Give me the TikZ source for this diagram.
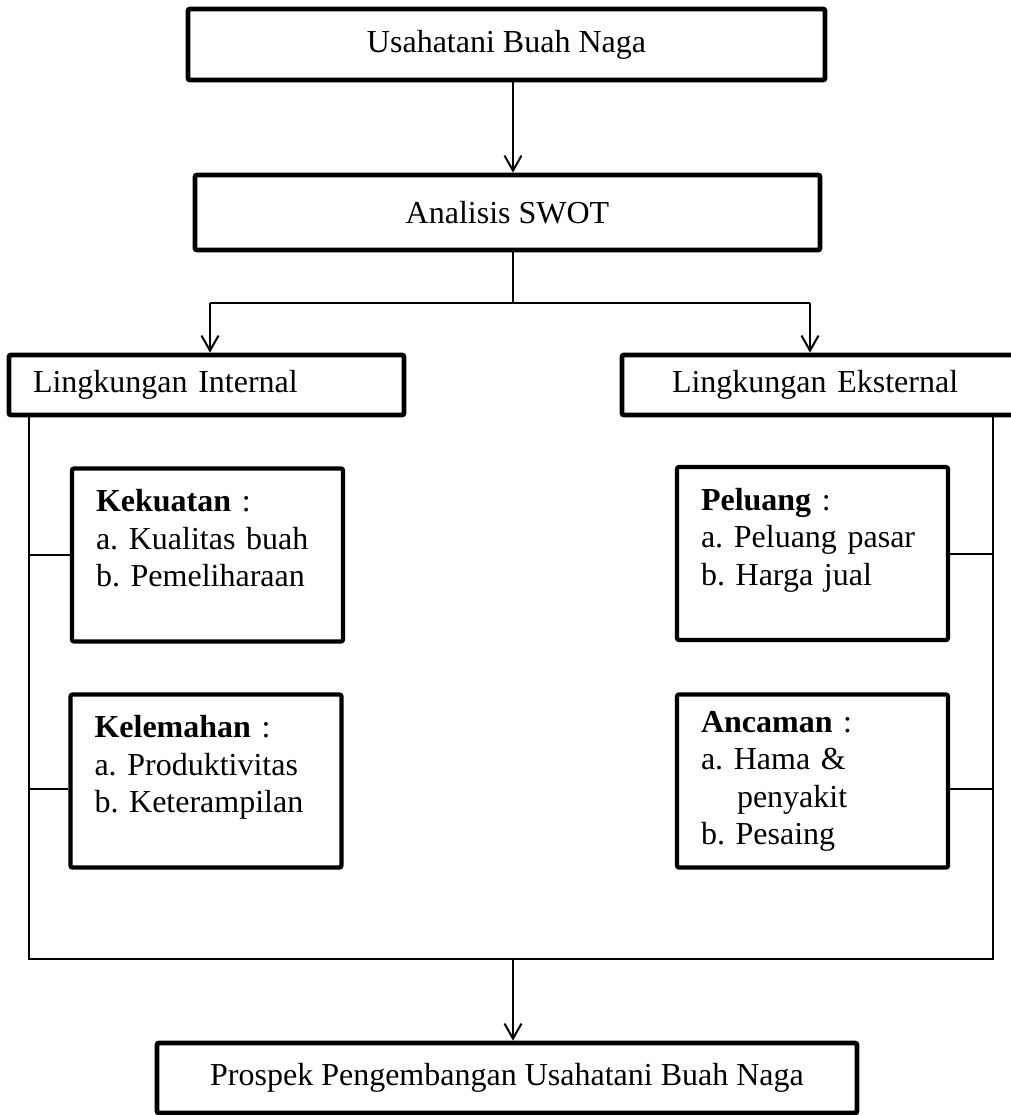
\documentclass[tikz,border=0pt]{standalone}
\usepackage{fontspec}
\setmainfont{Liberation Serif}
\usetikzlibrary{arrows.meta}
\frenchspacing
\tikzset{
	mainbox/.style={draw,line width=2.4pt,rounded corners=1pt,inner sep=0pt},
	envbox/.style={mainbox,minimum height=30pt,align=left,inner ysep=0pt},
	swotbox/.style={draw,line width=2.1pt,rounded corners=1pt,minimum width=135.5pt,minimum height=86.5pt,
		text width=111.5pt,inner xsep=12pt,inner ysep=0pt,align=left},
	conn/.style={line width=1pt},
	arr/.style={conn,-{Straight Barb[length=7.5pt,width=8.5pt,line width=1pt]}}
}
\begin{document}
\begin{tikzpicture}[x=0.5pt,y=-0.5pt,font=\fontsize{16}{18.75}\selectfont]
	\useasboundingbox (0,0) rectangle (1011,1115);
	\node[mainbox,minimum width=318.5pt,minimum height=35.5pt] (usaha) at (506.5,44.5) {Usahatani Buah Naga};
	\node[mainbox,minimum width=312.5pt,minimum height=37.5pt] (swot) at (507.5,212.5) {Analisis SWOT};
	\node[envbox,minimum width=197.5pt,text width=173.5pt,inner xsep=12pt] (internal) at (206.5,385) {Lingkungan Internal};
	\node[envbox,minimum width=196.5pt,text width=146.5pt,inner xsep=25pt] (eksternal) at (818.5,385) {Lingkungan Eksternal};
	\node[swotbox] (kekuatan) at (207.5,555) {\strut\textbf{Kekuatan} :\\ a. Kualitas buah\\ b. Pemeliharaan\\ \mbox{}};
	\node[swotbox] (kelemahan) at (206,781) {\strut\textbf{Kelemahan} :\\ a. Produktivitas\\ b. Keterampilan\\ \mbox{}};
	\node[swotbox] (peluang) at (812.5,553.5) {\strut\textbf{Peluang} :\\ a. Peluang pasar\\ b. Harga jual\\ \mbox{}};
	\node[swotbox] (ancaman) at (812.5,781) {\strut\textbf{Ancaman} :\\ a. Hama \&\\ \hspace*{18pt}penyakit\\ b. Pesaing\strut};
	\node[mainbox,minimum width=350pt,minimum height=35pt] (prospek) at (507,1078) {Prospek Pengembangan Usahatani Buah Naga};

	\coordinate (axis) at (513,0);
	\coordinate (forkL) at (210,303);
	\coordinate (forkR) at (810,303);
	\coordinate (frameL) at (29,959);
	\coordinate (frameR) at (993,959);

	\draw[arr] (usaha.south -| axis) -- (swot.north -| axis);
	\draw[conn] (swot.south -| axis) -- (axis |- forkL);
	\draw[conn] (forkL) -- (forkR);
	\draw[arr] (forkL) -- (forkL |- internal.north);
	\draw[arr] (forkR) -- (forkR |- eksternal.north);
	\draw[conn] (frameL |- internal.south) -- (frameL) -- (frameR) -- (frameR |- eksternal.south);
	\draw[conn] (kekuatan.west) -- (kekuatan.west -| frameL);
	\draw[conn] ([yshift=-4pt]kelemahan.west) -- ([yshift=-4pt]kelemahan.west -| frameL);
	\draw[conn] (peluang.east) -- (peluang.east -| frameR);
	\draw[conn] ([yshift=-4pt]ancaman.east) -- ([yshift=-4pt]ancaman.east -| frameR);
	\draw[arr] (axis |- frameL) -- (prospek.north -| axis);
\end{tikzpicture}
\end{document}
